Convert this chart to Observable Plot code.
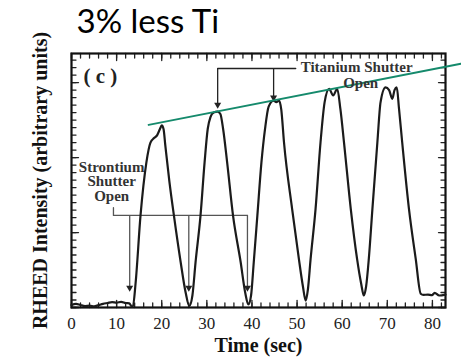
<!DOCTYPE html>
<html>
<head>
<meta charset="utf-8">
<script src="https://cdn.jsdelivr.net/npm/d3@7"></script>
<script src="https://cdn.jsdelivr.net/npm/@observablehq/plot@0.6"></script>
<style>
  html, body { margin: 0; padding: 0; background: #fff; }
  svg { display: block; }
</style>
</head>
<body>
<div id="chart"></div>
<script>
// RHEED trace (time in seconds, intensity in arbitrary units)
const timeSec = [0,1,2,3,4,5,6,7,8,9,10,11,12,12.8,13.3,13.6,
  14.2,15.3,16.6,17.5,18.3,19,19.6,20,20.4,20.8,21.7,22.7,24.2,25.3,26.1,26.8,
  27.5,28.6,29.5,30.2,30.8,31.5,32.4,33,33.6,34.5,35.8,37.5,38.5,39.2,39.8,
  40.4,41.2,42.1,42.9,43.7,44.8,45.4,46,46.5,47.1,48.9,50.4,51.3,51.9,52.4,
  53,54.1,55.2,56.1,57.1,58,58.9,59.6,60.4,61.9,63.3,64.2,64.8,65.3,
  65.9,66.7,67.8,68.5,69.6,70.4,71.1,71.6,72.1,72.6,73.3,74.8,76.3,77.4,78,79,79.9,80.5,81.5,82.9];
const intensity = [0.8,1.2,0.8,0.5,0.6,0.4,0.8,1.2,1.5,1.8,1.6,1.9,1.5,1.4,0.4,0.3,
  8,30.7,48.4,55,56.5,57.5,59.5,60.7,59.5,54,42,30.7,15.1,5,0.5,4,
  15.1,30.7,48.4,59.6,63.5,65,65.3,64.5,59.6,48.4,30.7,15.1,5,1,4,
  15.1,30.7,48.4,59.6,67,69,68.5,69,66,55.1,32.9,16.2,7,2.3,6,
  16.2,32.9,55.1,68.4,72.9,70.7,72.9,66.2,55.1,32.9,16.2,8,4,7,
  16.2,32.9,55.1,68.4,73.4,72.5,69.6,72.5,73.4,66.2,55.1,32.9,16.2,4.6,4.2,4.3,4.1,4.9,4,4.3];

// Axis ticks
const xTickLabels = [0,10,20,30,40,50,60,70,80];
const xMinorTicks = d3.range(0, 83, 2);
const yMajorTicks = [0,25,50,75];
const yMinorTicks = d3.range(0, 85, 2.5);

// Green trend line
const trendX = [17.1, 86.3];
const trendY = [60.9, 81.3];

// Titanium shutter annotation
const tiArrowX = [32.4, 44.8];
const tiArrowTipY = [67.6, 70.0];
const tiBarX = [32.4, 49.7];
const tiBarY = [79.7, 79.7];

// Strontium shutter annotation
const srArrowX = [12.9, 26.0, 39.0];
const srArrowTipY = [6.6, 6.6, 6.6];
const srBarX = [9.3, 9.3, 39.0];
const srBarY = [33.3, 30.7, 30.7];
const srTopY = 30.7;

const serif = "Liberation Serif";

// straight tick shape for vector marks (drawn "up" before rotation)
const tickShape = {draw(context, l) { context.moveTo(0, 0); context.lineTo(0, -l); }};
const tickStyle = {shape: tickShape, anchor: "start", stroke: "#222", strokeWidth: 1.3};
const ticksX = (data, len, side) => Plot.vector(data, {x: d => d, frameAnchor: side, length: len, rotate: side === "bottom" ? 0 : 180, ...tickStyle});
const ticksY = (data, len, side) => Plot.vector(data, {y: d => d, frameAnchor: side, length: len, rotate: side === "left" ? 90 : 270, ...tickStyle});

const chart = Plot.plot({
  width: 461,
  height: 361,
  marginLeft: 71,
  marginRight: 16,
  marginTop: 53,
  marginBottom: 54,
  style: {background: "#fff", fontFamily: serif},
  x: {domain: [0, 82.9]},
  y: {domain: [0, 84.7]},
  marks: [
    // inward ticks
    ticksX(xMinorTicks, 4.5, "bottom"),
    ticksX(xTickLabels, 7, "bottom"),
    ticksX(xMinorTicks, 4.5, "top"),
    ticksX(xTickLabels, 7, "top"),
    ticksY(yMinorTicks, 4.5, "left"),
    ticksY(yMajorTicks, 7, "left"),
    ticksY(yMinorTicks, 4.5, "right"),
    ticksY(yMajorTicks, 7, "right"),
    // tick labels
    Plot.axisX(xTickLabels, {anchor: "bottom", tickSize: 0, tickPadding: 9, label: null, fontSize: 17, fontFamily: serif, fill: "#222"}),
    Plot.axisY([], {anchor: "left", label: null}),
    Plot.frame({stroke: "#111", strokeWidth: 2.2}),
    // strontium bracket
    Plot.line(srBarX, {x: srBarX, y: srBarY, stroke: "#555", strokeWidth: 1.3}),
    Plot.ruleX(srArrowX, {x: srArrowX, y1: srTopY, y2: srArrowTipY, stroke: "#555", strokeWidth: 1.3}),
    Plot.dot(srArrowX, {x: srArrowX, y: srArrowTipY, symbol: "triangle", rotate: 180, r: 2.6, fill: "#222", stroke: null}),
    // titanium bracket
    Plot.line(tiBarX, {x: tiBarX, y: tiBarY, stroke: "#222", strokeWidth: 1.3}),
    Plot.ruleX(tiArrowX, {x: tiArrowX, y1: tiBarY[0], y2: tiArrowTipY, stroke: "#222", strokeWidth: 1.3}),
    Plot.dot(tiArrowX, {x: tiArrowX, y: tiArrowTipY, symbol: "triangle", rotate: 180, r: 2.6, fill: "#222", stroke: null}),
    // trace
    Plot.line(timeSec, {x: timeSec, y: intensity, curve: "monotone-x", stroke: "#1b1b1b", strokeWidth: 2.2}),
    // green trend
    Plot.line(trendX, {x: trendX, y: trendY, stroke: "#158a6c", strokeWidth: 2}),
    // annotations
    Plot.text(["( c )"], {x: [6.4], y: [77], fontSize: 21, fontWeight: "bold", fontFamily: serif, fill: "#222"}),
    Plot.text(["Titanium Shutter"], {x: [63.2], y: [80], fontSize: 15, fontWeight: "bold", fontFamily: serif, fill: "#333"}),
    Plot.text(["Open"], {x: [64.1], y: [74.8], fontSize: 15, fontWeight: "bold", fontFamily: serif, fill: "#333"}),
    Plot.text(["Strontium\nShutter\nOpen"], {x: [8.9], y: [42], fontSize: 15, lineHeight: 0.98, fontWeight: "bold", fontFamily: serif, fill: "#333"}),
    // axis labels
    Plot.text(["Time (sec)"], {frameAnchor: "bottom", dy: 38, lineAnchor: "middle", fontSize: 20, fontWeight: "bold", fontFamily: serif, fill: "#111"}),
    Plot.text(["RHEED Intensity (arbitrary units)"], {frameAnchor: "left", dx: -31, rotate: -90, textAnchor: "middle", lineAnchor: "middle", fontSize: 20, fontWeight: "bold", fontFamily: serif, fill: "#111"}),
    // title
    Plot.text(["3% less Ti"], {frameAnchor: "top-left", dx: 5, dy: -44, textAnchor: "start", fontSize: 33, fontFamily: "Lato", fill: "#000"})
  ]
});
document.getElementById("chart").appendChild(chart);
</script>
</body>
</html>
